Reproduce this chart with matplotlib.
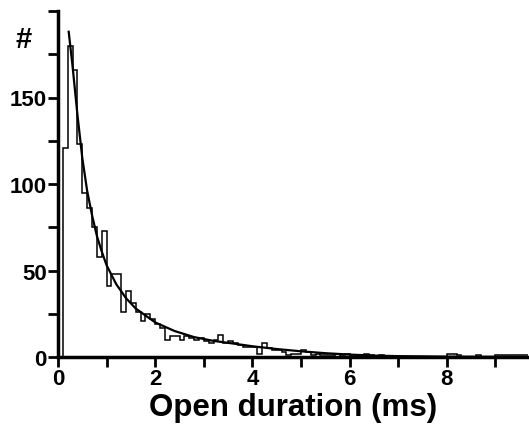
import numpy as np
import matplotlib
matplotlib.use("Agg")
import matplotlib.pyplot as plt
from matplotlib.ticker import MultipleLocator

plt.rcParams['font.family'] = ['Liberation Sans', 'DejaVu Sans']
plt.rcParams['font.weight'] = 'bold'

# histogram: 0.1 ms bins starting at 0
bin_width = 0.1
counts = [0, 121, 180, 166, 123, 95, 86, 75, 58, 73,
          41, 48, 48, 26, 38, 31, 26, 21, 25, 22,
          19, 17, 10, 12, 12, 10, 12, 11, 10, 11,
          9, 8, 10, 13, 8, 9, 8, 7, 6, 6,
          6, 2, 8, 5, 4, 4, 3, 1, 2, 2,
          4, 3, 1, 2, 1, 1, 1, 0, 1, 2,
          1, 1, 1, 2, 1, 0, 1, 0, 0, 0,
          0, 0, 0, 0, 0, 0, 0, 0, 0, 0,
          2, 2, 1, 0, 0, 0, 1, 0, 0, 0,
          1, 1, 1, 1, 1, 1, 1]

# fitted curve
fit_t = [0.22, 0.3, 0.4, 0.5, 0.6, 0.7, 0.8, 0.9, 1.0, 1.2, 1.4, 1.6, 1.8,
         2.0, 2.4, 2.8, 3.2, 3.6, 4.0, 4.5, 5.0, 5.5, 6.0, 6.5, 7.0, 8.0, 9.6]
fit_y = [188, 168, 140, 115, 96, 82, 70, 61, 53, 42, 34, 28, 24,
         20, 15, 11.5, 9.3, 7.8, 6.2, 4.6, 3.3, 2.2, 1.4, 0.8, 0.5, 0.2, 0.05]

edges = np.arange(len(counts) + 1) * bin_width

fig = plt.figure(figsize=(5.29, 4.31), dpi=100)
ax = fig.add_axes([58 / 529, 1 - 358 / 431, 470 / 529, 346 / 431])

ax.stairs(counts, edges, color='black', lw=1.1, baseline=0)
ax.plot(fit_t, fit_y, color='black', lw=1.6)

ax.set_xlim(0, 9.67)
ax.set_ylim(0, 200)
ax.xaxis.set_major_locator(MultipleLocator(2))
ax.xaxis.set_minor_locator(MultipleLocator(1))
ax.set_yticks([0, 50, 100, 150, 200])
ax.set_yticklabels(['0', '50', '100', '150', ''])
ax.yaxis.set_minor_locator(MultipleLocator(25))

for s in ['top', 'right']:
    ax.spines[s].set_visible(False)
for s in ['left', 'bottom']:
    ax.spines[s].set_linewidth(2.5)

ax.tick_params(which='both', direction='out', width=2, labelsize=16)
ax.tick_params(which='major', length=7, pad=1)
ax.tick_params(which='minor', length=7)

ax.set_xlabel('Open duration (ms)', fontsize=22.5, fontweight='bold', labelpad=2)
fig.text(24 / 529, 1 - 40 / 431, '#', fontsize=21, fontweight='bold',
         ha='center', va='center')

fig.savefig('out.png', dpi=100)
